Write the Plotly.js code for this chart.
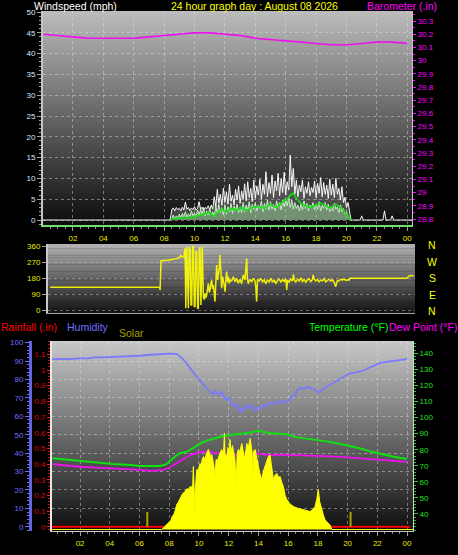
<!DOCTYPE html>
<html><head><meta charset="utf-8">
<script src="https://cdn.plot.ly/plotly-3.0.1.min.js"></script>
<style>html,body{margin:0;padding:0;background:#000;}#chart{width:458px;height:555px;}</style>
</head><body><div id="chart"></div>
<script>
// ---------- axis labels ----------
const hourTicks = [2,4,6,8,10,12,14,16,18,20,22,24];
const hourLabels = ['02','04','06','08','10','12','14','16','18','20','22','00'];
const windTicks = [0,5,10,15,20,25,30,35,40,45,50];
const dirTicks = [0,90,180,270,360];
const tempTicks = [40,50,60,70,80,90,100,110,120,130,140];
const compassLabels = ['N','W','S','E','N'];

// ---------- wind speed (mph), one reading every 0.1 h from 08:30 ----------
const windStartHour = 8.5;
const windStepHours = 0.1;
const gustValues = [
 2.4,2.9,2.2,3.0,2.5,2.8,
 2.2,3.1,2.4,4.3,2.6,3.0,2.2,2.9,2.5,
 3.2,2.4,2.8,4.4,2.6,3.1,2.3,3.0,2.7,3.4,
 2.5,3.6,2.6,5.6,3.2,7.4,4.0,6.2,3.5,7.7,
 4.2,6.8,3.8,8.6,4.5,6.0,3.6,7.4,4.8,8.2,
 4.0,7.0,5.0,8.7,4.6,9.2,5.4,7.6,4.4,9.6,
 5.2,8.2,6.0,9.8,5.0,8.6,6.2,11.6,5.6,9.0,
 6.4,10.8,5.4,9.4,7.0,11.2,5.8,10.0,6.6,11.5,
 6.0,9.2,7.2,15.6,8.0,12.4,6.2,9.6,5.6,8.4,
 6.8,9.6,5.2,8.0,6.4,9.2,5.8,7.8,6.6,9.4,
 5.4,8.8,6.4,10.2,5.6,9.0,6.2,8.4,5.2,9.8,
 6.0,8.6,5.4,10.0,6.2,7.6,4.8,8.0,4.2,5.5,
 3.0,4.2,2.4,0];
const speedValues = [
 0.4,1.2,0.3,1.0,0.5,1.4,
 0.6,1.6,0.8,2.0,0.7,1.5,0.9,2.2,1.0,
 1.8,0.8,2.4,1.2,2.6,1.4,3.0,1.0,2.2,1.2,
 2.8,1.2,2.0,0.8,3.4,1.6,3.8,1.8,3.0,1.2,
 3.6,1.4,3.2,2.0,4.0,1.6,3.4,2.2,3.8,1.8,
 3.2,1.8,4.2,2.0,3.6,2.4,4.4,1.8,3.8,2.6,
 4.2,2.2,3.6,2.8,4.6,2.0,4.0,2.6,4.8,2.4,
 4.4,2.6,3.8,2.2,4.6,3.0,4.2,2.4,4.8,3.2,
 5.0,3.4,5.6,3.0,4.8,2.6,4.2,2.8,3.6,2.2,
 3.8,2.4,4.6,2.8,4.0,2.2,3.6,3.0,4.2,2.4,
 3.8,2.6,4.4,2.2,3.6,2.8,4.2,2.4,3.8,2.0,
 3.4,2.2,4.0,2.6,3.2,1.8,3.6,2.0,2.8,1.4,
 2.0,1.0,0.6,0];
const calmBeforeHours = [0, 8.4];
const calmBeforeValues = [0, 0];
const lateGustHours = [20.4, 20.9, 21.0, 21.1, 22.4, 22.5, 22.6, 22.9, 23.0, 23.1, 24.3];
const lateGustValues = [0, 0, 1.0, 0, 0, 2.2, 0, 0, 1.0, 0, 0];
const avgHours = [8.5, 8.6, 9.2, 9.7, 10.2, 10.6, 11.0, 11.24, 11.57,
 11.8, 12.1, 12.4, 12.8, 13.1, 13.4, 13.9, 14.3, 14.6, 15.0,
 15.4, 15.8, 16.1, 16.3, 16.5, 16.7, 17.0, 17.2, 17.6, 18.0,
 18.3, 18.5, 18.9, 19.3, 19.7, 20.0, 20.2, 20.3];
const avgValues = [0, 0.3, 0.5, 0.6, 1.0, 1.4, 1.8, 0.8, 2.0,
 2.6, 2.0, 2.8, 2.4, 3.0, 2.2, 3.2, 3.2, 2.8, 3.8,
 3.0, 4.4, 5.0, 6.0, 6.4, 5.2, 4.0, 3.6, 3.0, 3.6,
 4.0, 3.8, 2.8, 3.8, 2.8, 1.4, 0.4, 0];

// ---------- barometer (inHg) ----------
const baroHours = [0,1,2,3,4,5,6,7,8,9,10,11,12,13,14,15,16,17,18,19,20,21,22,23,24];
const baroValues = [30.20,30.19,30.18,30.17,30.17,30.17,30.17,30.18,30.19,30.20,30.21,30.21,30.20,
 30.19,30.17,30.16,30.15,30.14,30.13,30.12,30.12,30.13,30.14,30.14,30.13];

// ---------- wind direction (degrees) ----------
const dirHours = [
 0,7.25,7.28,7.34,7.8,8.15,8.4,8.6,8.65,8.71,
 8.85,8.93,8.98,9.04,9.10,9.15,9.20,9.26,9.32,9.37,
 9.43,9.48,9.54,9.59,9.65,9.70,9.76,9.81,9.87,9.92,
 9.98,10.03,10.07,10.14,10.20,10.25,10.30,10.36,10.42,10.47,
 10.53,10.58,10.64,10.69,10.75,10.80,10.86,10.91,10.96,11.02,
 11.08,11.13,11.19,11.24,11.30,11.35,11.41,11.46,11.52,11.57,
 11.63,11.68,11.74,11.79,11.85,11.90,12.01,12.12,12.23,12.34,
 12.45,12.56,12.67,12.78,12.89,12.95,13.00,13.05,13.11,13.22,
 13.33,13.44,13.55,13.61,13.66,13.72,13.83,13.94,14.05,14.16,
 14.27,14.38,14.49,14.60,14.71,14.82,14.93,15.04,15.15,15.26,
 15.37,15.48,15.59,15.65,15.70,15.81,15.92,16.03,16.10,16.14,
 16.25,16.36,16.47,16.58,16.69,16.80,16.91,17.02,17.13,17.24,
 17.35,17.40,17.46,17.57,17.68,17.79,17.90,18.01,18.12,18.23,
 18.34,18.45,18.56,18.67,18.78,18.89,19.00,19.11,19.22,19.33,
 19.44,19.55,19.66,19.77,19.83,23.6,23.75,24.05];
const dirValues = [
 130,130,114,279,281,285,292,298,311,302,
 300,349,11,358,20,11,355,349,30,30,
 358,358,21,21,330,330,11,11,349,349,
 30,358,358,77,60,96,70,86,130,152,
 100,114,150,171,120,142,90,49,150,255,
 170,199,240,311,160,124,190,171,140,105,
 180,218,160,189,150,171,165,189,160,180,
 152,175,150,199,171,230,292,180,150,175,
 160,180,165,130,49,175,165,180,160,172,
 150,170,160,180,158,172,150,168,175,160,
 172,162,178,114,170,158,176,165,202,172,
 160,175,165,182,162,174,158,170,178,162,
 172,199,176,165,174,160,170,166,178,160,
 170,175,165,172,158,133,168,165,175,170,
 176,168,172,170,180,180,195,195];

// ---------- humidity (%) ----------
const humHours = [
 0.1,0.5,1.0,1.5,2.0,2.5,3.0,3.5,4.0,4.5,
 5.0,5.5,6.0,6.5,7.0,7.5,8.0,8.5,8.8,9.1,
 9.4,9.7,10.0,10.3,10.6,10.8,11.0,11.1,11.3,11.5,
 11.7,11.9,12.0,12.2,12.4,12.5,12.7,12.8,12.9,13.0,
 13.2,13.3,13.5,13.7,13.8,14.0,14.2,14.4,14.6,14.8,
 15.0,15.2,15.4,15.6,15.8,16.0,16.2,16.4,16.6,16.8,
 17.0,17.3,17.6,17.9,18.1,18.3,18.6,18.9,19.2,19.5,
 19.8,20.1,20.4,20.7,21.0,21.3,21.6,21.9,22.2,22.6,
 23.0,23.5,24.0];
const humValues = [
 91.0,91.2,91.0,91.4,91.5,91.5,92.0,92.0,92.1,92.3,
 92.3,92.6,92.9,93.3,93.6,93.9,94.0,93.9,92.0,89.5,
 86.0,83.0,80.0,77.0,74.5,73.0,72.0,74.0,71.5,73.2,
 70.0,69.0,70.5,66.5,65.5,67.0,63.0,62.0,64.5,63.5,
 66.0,64.0,66.5,64.5,63.0,65.0,64.0,66.5,65.5,67.5,
 66.5,68.0,67.0,68.5,67.5,68.0,70.5,71.0,74.0,75.5,
 75.0,76.0,75.0,74.0,72.8,74.5,76.0,77.5,79.0,80.5,
 82.0,83.2,83.6,84.2,84.6,85.8,86.8,88.0,89.0,89.6,
 90.0,90.6,91.1];

// ---------- temperature & dew point (F) ----------
const tempHours = [0.15,1.0,2.0,3.1,4.2,5.4,6.0,6.8,7.4,7.8,8.1,8.4,8.7,9.2,9.6,10.1,10.5,11.0,11.5,12.1,
 12.6,13.0,13.5,14.0,14.4,14.8,15.3,15.9,16.6,17.2,17.9,18.6,19.3,20.0,20.8,21.5,22.2,23.0,24.0];
const tempValues = [74.7,74.0,73.2,71.9,71.1,70.5,69.9,69.9,69.9,71.0,73.6,75.8,77.8,78.8,81.0,84.0,85.6,87.1,88.2,89.2,
 89.6,90.2,90.8,91.8,90.8,90.2,89.9,89.6,87.7,87.0,86.0,85.2,84.0,82.6,80.9,79.0,77.3,75.8,74.2];
const dewHours = [0.15,1.0,2.0,3.0,4.2,5.2,6.0,6.9,7.6,8.0,8.3,8.8,9.4,9.9,10.3,10.8,11.2,11.7,12.1,12.8,
 13.4,13.9,14.4,14.8,15.6,16.6,17.3,17.9,18.6,19.3,20.0,20.8,21.6,22.4,23.2,24.0];
const dewValues = [71.1,70.2,69.4,68.9,68.4,67.9,67.4,66.8,67.4,68.8,70.5,73.8,76.7,78.0,78.8,78.5,77.8,77.2,76.7,76.4,
 76.7,77.8,77.0,76.7,76.9,76.7,76.4,76.1,75.9,75.7,75.3,74.7,74.0,73.3,72.8,72.4];

// ---------- rainfall (in) ----------
const rainHours = [0, 24.2];
const rainValues = [0, 0];

// ---------- solar (W/m2) ----------
const solarHours = [
 0,7.5,7.6,7.7,7.8,7.9,8.0,8.1,8.2,8.3,
 8.4,8.5,8.6,8.7,8.8,8.9,9.0,9.1,9.2,9.3,
 9.4,9.5,9.58,9.62,9.66,9.74,9.78,9.85,9.95,10.07,
 10.15,10.2,10.3,10.4,10.5,10.63,10.7,10.8,10.86,10.95,
 11.0,11.08,11.15,11.25,11.31,11.4,11.53,11.6,11.67,11.71,
 11.75,11.87,11.95,12.02,12.09,12.15,12.25,12.32,12.42,12.5,
 12.57,12.65,12.75,12.88,12.95,13.02,13.1,13.16,13.22,13.32,
 13.44,13.5,13.58,13.62,13.67,13.78,13.88,14.0,14.1,14.23,
 14.32,14.45,14.55,14.67,14.78,14.88,15.01,15.1,15.24,15.35,
 15.46,15.57,15.68,15.8,15.91,16.1,16.35,16.6,16.85,17.03,
 17.25,17.48,17.65,17.81,17.92,18.03,18.12,18.26,18.38,18.49,
 18.65,18.82,18.94,24.4];
const solarValues = [
 0,0,15,30,45,60,85,90,130,150,
 190,250,270,300,330,360,370,390,410,400,
 430,420,450,630,430,130,460,600,590,660,
 640,690,730,700,760,800,770,720,750,690,
 640,520,700,690,730,760,800,760,820,965,
 760,730,820,770,900,780,840,790,700,430,
 760,800,780,860,800,740,730,800,860,820,
 910,850,760,430,780,800,700,630,560,500,
 580,630,680,730,745,620,500,540,560,520,
 530,470,430,340,300,260,230,215,205,195,
 185,180,200,230,300,400,280,195,140,95,
 70,45,0,0];

// sunrise / sunset markers (hours)
const sunEventHours = [6.52, 20.2];

// ---------- build ----------
const W = 458, H = 555;
const px = v => v / W, py = v => 1 - v / H;
const FONT = 'Liberation Sans, Arial, sans-serif';

const gustHours = gustValues.map((_, i) => +(windStartHour + i * windStepHours).toFixed(2));

const traces = [
  {x: gustHours, y: gustValues, xaxis:'x', yaxis:'y', mode:'lines', fill:'tozeroy',
   fillcolor:'rgba(200,200,200,0.28)', line:{color:'rgba(0,0,0,0)', width:0}, hoverinfo:'skip'},
  {x: calmBeforeHours.concat(gustHours, lateGustHours), y: calmBeforeValues.concat(gustValues, lateGustValues),
   xaxis:'x', yaxis:'y', mode:'lines', line:{color:'rgba(255,255,255,0.95)', width:1}, hoverinfo:'skip'},
  {x: gustHours, y: speedValues, xaxis:'x', yaxis:'y', mode:'lines', fill:'tozeroy',
   fillcolor:'rgba(170,235,170,0.45)', line:{color:'rgba(200,250,200,0.9)', width:1}, hoverinfo:'skip'},
  {x: avgHours, y: avgValues, xaxis:'x', yaxis:'y', mode:'lines', line:{color:'#10e010', width:1.6}, hoverinfo:'skip'},
  {x: baroHours, y: baroValues, xaxis:'x', yaxis:'y2', mode:'lines', line:{color:'#ee10ee', width:1.6, shape:'spline'}, hoverinfo:'skip'},
  {x: dirHours, y: dirValues, xaxis:'x2', yaxis:'y3', mode:'lines', line:{color:'rgba(255,255,0,0.9)', width:1.5}, hoverinfo:'skip'},
  {x: solarHours, y: solarValues, xaxis:'x3', yaxis:'y7', mode:'lines', fill:'tozeroy',
   fillcolor:'#ffff00', line:{color:'#ffff00', width:1}, hoverinfo:'skip'},
  {x: humHours, y: humValues, xaxis:'x3', yaxis:'y5', mode:'lines', line:{color:'#7a7aff', width:1.8}, hoverinfo:'skip'},
  {x: tempHours, y: tempValues, xaxis:'x3', yaxis:'y6', mode:'lines', line:{color:'#10e010', width:2}, hoverinfo:'skip'},
  {x: dewHours, y: dewValues, xaxis:'x3', yaxis:'y6', mode:'lines', line:{color:'#ee10ee', width:1.8}, hoverinfo:'skip'},
  {x: rainHours, y: rainValues, xaxis:'x3', yaxis:'y4', mode:'lines', line:{color:'#ff0000', width:2}, hoverinfo:'skip'}
];

// gradient backgrounds
const shapes = [];
function gradient(xa, ya, top, bottom, n) {
  for (let i = 0; i < n; i++) {
    const c = Math.round(bottom + (top - bottom) * (i + 0.5) / n);
    shapes.push({type:'rect', xref: xa + ' domain', yref: ya + ' domain', x0:0, x1:1,
      y0: i / n, y1: Math.min(1, (i + 1) / n + 0.004), fillcolor:`rgb(${c},${c},${c})`,
      line:{width:0}, layer:'below'});
  }
}
gradient('x', 'y', 188, 12, 60);
gradient('x2', 'y3', 178, 18, 30);
gradient('x3', 'y4', 200, 14, 60);
sunEventHours.forEach(h => shapes.push({type:'line', xref:'x3', yref:'y5', x0:h, x1:h, y0:0, y1:8,
  line:{color:'#a8a800', width:2}}));

const grid = {gridcolor:'rgba(225,225,225,0.45)', griddash:'dot', gridwidth:1};
const tickFont = (c) => ({family: FONT, size: 8, color: c});

const layout = {
  width: W, height: H, margin:{l:0, r:0, t:0, b:0},
  paper_bgcolor:'#000', plot_bgcolor:'#000', showlegend:false,
  xaxis: Object.assign({domain:[px(43), px(412)], anchor:'y', range:[0.03, 24.31],
    tickmode:'array', tickvals:hourTicks, ticktext:hourLabels, ticks:'outside', ticklen:4, tickcolor:'#a0a0a0',
    tickfont: tickFont('#e8e800'), showgrid:true, zeroline:false, showline:true, linecolor:'#70e070', linewidth:2,
    minor:{dtick:0.5, tick0:0, ticks:'outside', ticklen:2, tickcolor:'#909090', showgrid:false}}, grid),
  yaxis: Object.assign({domain:[py(225), py(11)], anchor:'x', range:[-1.2, 50.24],
    tickmode:'array', tickvals:windTicks, ticks:'outside', ticklen:4, tickcolor:'#a0a0a0',
    tickfont: tickFont('#dce6ff'), showgrid:true, zeroline:false, showline:true, linecolor:'#c4c4c4', linewidth:2,
    minor:{dtick:1, tick0:0, ticks:'outside', ticklen:2, tickcolor:'#a0a0a0', showgrid:false}}, grid),
  yaxis2: {overlaying:'y', side:'right', anchor:'x', range:[28.755, 30.376], dtick:0.1, tick0:28.8,
    ticks:'outside', ticklen:3, tickcolor:'#ff00ff', tickfont: tickFont('#ff00ff'), showgrid:false, zeroline:false,
    showline:true, linecolor:'#c4c4c4', linewidth:1,
    minor:{dtick:0.05, ticks:'outside', ticklen:2, tickcolor:'#ff00ff', showgrid:false}},
  xaxis2: {domain:[px(48), px(415)], anchor:'y3', range:[-0.13, 24.13], showticklabels:false, ticks:'',
    showgrid:false, zeroline:false, showline:true, linecolor:'#a0a0a0', linewidth:1},
  yaxis3: {domain:[py(313), py(244)], anchor:'x2', range:[-15.2, 372.9], tickmode:'array', tickvals:dirTicks,
    ticks:'outside', ticklen:4, tickcolor:'#a0a0a0', tickfont: tickFont('#e8e800'),
    showgrid:true, gridcolor:'rgba(215,175,215,0.5)', griddash:'dot', zeroline:false,
    showline:true, linecolor:'#c8c8c8', linewidth:2},
  xaxis3: Object.assign({domain:[px(52), px(413)], anchor:'y4', range:[0.11, 24.4],
    tickmode:'array', tickvals:hourTicks, ticktext:hourLabels, ticks:'outside', ticklen:4, tickcolor:'#a0a0a0',
    tickfont: tickFont('#e8e800'), showgrid:true, zeroline:false, showline:true, linecolor:'#c8c8c8', linewidth:1,
    minor:{dtick:0.5, tick0:0, ticks:'outside', ticklen:2, tickcolor:'#909090', showgrid:false}}, grid),
  yaxis4: {domain:[py(531), py(341)], anchor:'x3', side:'left', range:[-0.027, 1.185], dtick:0.1, tick0:0,
    ticks:'outside', ticklen:3, tickcolor:'#ff2020', tickfont: tickFont('#e00000'), showgrid:false, zeroline:false,
    showline:true, linecolor:'#e8e8e8', linewidth:2,
    minor:{dtick:0.02, ticks:'outside', ticklen:2, tickcolor:'#d01010', showgrid:false}},
  yaxis5: Object.assign({overlaying:'y4', anchor:'free', position:px(30), side:'left', range:[-2.3, 100.9], dtick:10, tick0:0,
    ticks:'outside', ticklen:4, tickcolor:'#7070ff', tickfont: tickFont('#6e6eff'), showgrid:true, zeroline:false,
    showline:true, linecolor:'#6464e0', linewidth:3,
    minor:{dtick:2, ticks:'outside', ticklen:2, tickcolor:'#7070ff', showgrid:false}}, grid),
  yaxis6: {overlaying:'y4', side:'right', anchor:'x3', range:[29.4, 147.7], tickmode:'array', tickvals:tempTicks,
    ticks:'outside', ticklen:4, tickcolor:'#20d020', tickfont: tickFont('#20e020'), showgrid:false, zeroline:false,
    showline:true, linecolor:'#d0d0d0', linewidth:1,
    minor:{dtick:2, ticks:'outside', ticklen:2, tickcolor:'#20c020', showgrid:false}},
  yaxis7: {overlaying:'y4', anchor:'x3', range:[-15, 1885], visible:false, showgrid:false},
  shapes: shapes,
  annotations: []
};

function label(text, x, y, color, anchor) {
  layout.annotations.push({text: text, xref:'paper', yref:'paper', x: px(x), y: py(y),
    xanchor: anchor || 'left', yanchor:'middle', showarrow:false, borderpad:0,
    font:{family: FONT, size:10.5, color: color}});
}
label('Windspeed (mph)', 33, 6, '#ffffff');
label('24 hour graph day : August 08 2026', 254.5, 6, '#ffff00', 'center');
label('Barometer (.in)', 366, 6, '#ff00ff');
const compassY = [245, 262, 278, 295, 311];
compassLabels.forEach((t, i) => label(t, 432, compassY[i], '#ffff00', 'center'));
label('Rainfall (.in)', 0, 327, '#ff0000');
label('Humidity', 66, 327, '#7070ff');
label('Solar', 118, 333, '#a0a000');
label('Temperature (°F)', 308, 327, '#00ff00');
label('Dew Point (°F)', 388, 327, '#ff00ff');

Plotly.newPlot('chart', traces, layout, {staticPlot:true, displayModeBar:false});
</script></body></html>
